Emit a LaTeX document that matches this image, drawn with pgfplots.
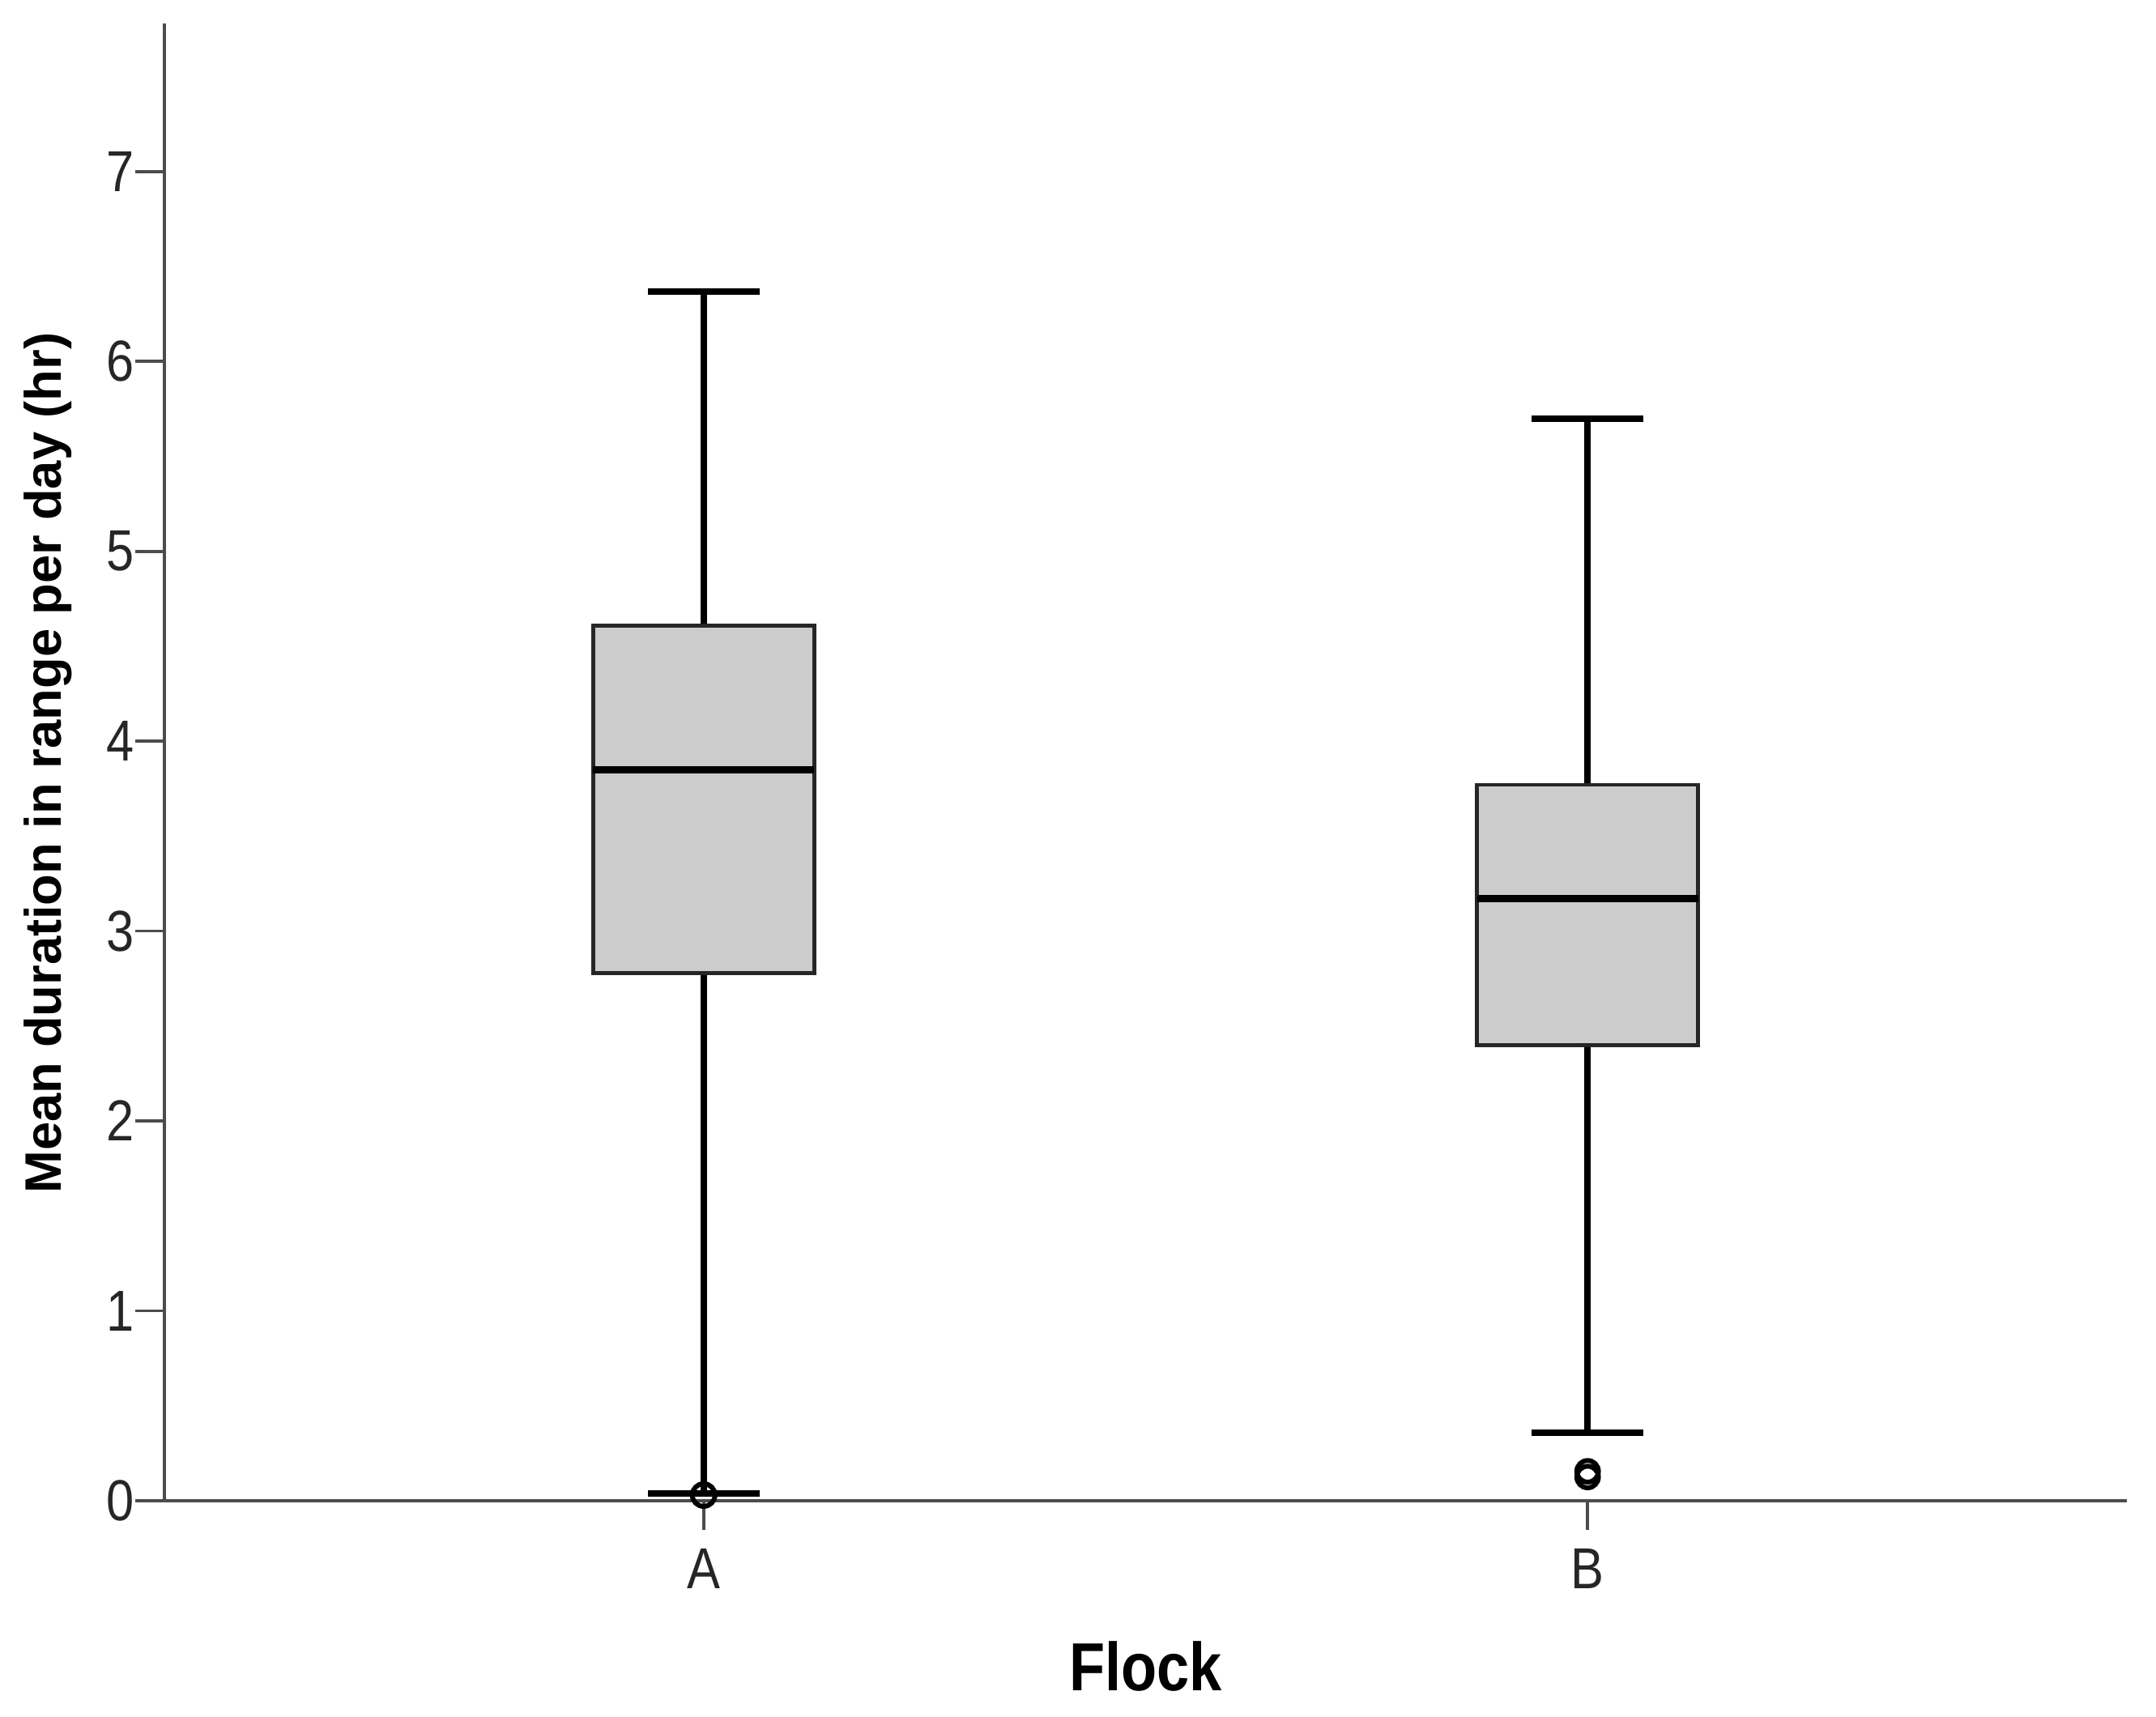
\documentclass[border=0pt]{standalone}
\usepackage{fontspec}
\setmainfont{Liberation Sans}
\newfontfamily\narrowfont{Liberation Sans}[FakeStretch=0.86]
\usepackage{pgfplots}
\pgfplotsset{compat=1.18}
\begin{document}
\begin{tikzpicture}
\begin{axis}[
  scale only axis,
  width=363.45pt, height=273.6pt,
  xmin=0.39, xmax=2.61, ymin=0, ymax=7.78,
  axis x line*=bottom, axis y line*=left,
  axis line style={-, draw=black!70, line width=0.55pt},
  xtick={1,2}, xticklabels={A,B},
  ytick={0,1,2,3,4,5,6,7},
  tick align=outside,
  major tick length=5.4pt,
  tick style={draw=black!70, line width=0.55pt},
  /pgf/number format/assume math mode=true,
  ticklabel style={font=\narrowfont\fontsize{10.7}{12}\selectfont, text=black!85},
  yticklabel style={xshift=3.3pt},
  every axis x label/.style={at={(axis description cs:0.5,-0.1288)}, anchor=base, font=\narrowfont\fontsize{12.6}{14}\selectfont\bfseries},
  every axis y label/.style={at={(axis description cs:-0.0528,0.1952)}, rotate=90, anchor=base west, font=\fontsize{9.5}{12}\selectfont\bfseries},
  xlabel={Flock},
  ylabel={Mean duration in range per day (hr)},
  clip=false,
]
% Flock A
\addplot[black, line width=1.2pt] coordinates {(1,0.04) (1,6.37)};
\addplot[black, line width=1.2pt] coordinates {(0.937,6.37) (1.063,6.37)};
\addplot[black, line width=1.2pt] coordinates {(0.937,0.04) (1.063,0.04)};
\addplot[draw=black!85, line width=0.7pt, fill=black!20] coordinates {(0.875,2.78) (1.125,2.78) (1.125,4.61) (0.875,4.61)} -- cycle;
\addplot[black, line width=1.3pt] coordinates {(0.875,3.85) (1.125,3.85)};
\addplot[only marks, mark=o, mark size=2.1pt, mark options={line width=0.9pt, draw=black}] coordinates {(1,0.03)};
% Flock B
\addplot[black, line width=1.2pt] coordinates {(2,0.36) (2,5.70)};
\addplot[black, line width=1.2pt] coordinates {(1.937,5.70) (2.063,5.70)};
\addplot[black, line width=1.2pt] coordinates {(1.937,0.36) (2.063,0.36)};
\addplot[draw=black!85, line width=0.7pt, fill=black!20] coordinates {(1.875,2.40) (2.125,2.40) (2.125,3.77) (1.875,3.77)} -- cycle;
\addplot[black, line width=1.3pt] coordinates {(1.875,3.17) (2.125,3.17)};
\addplot[only marks, mark=o, mark size=2.0pt, mark options={line width=0.9pt, draw=black}] coordinates {(2,0.125) (2,0.155)};
\end{axis}
\path (current axis.south west) ++(-30.45pt,-40.05pt) coordinate (bl);
\path (current axis.north east) ++(5.4pt,4.35pt) coordinate (tr);
\path (bl) rectangle (tr);
\end{tikzpicture}
\end{document}
